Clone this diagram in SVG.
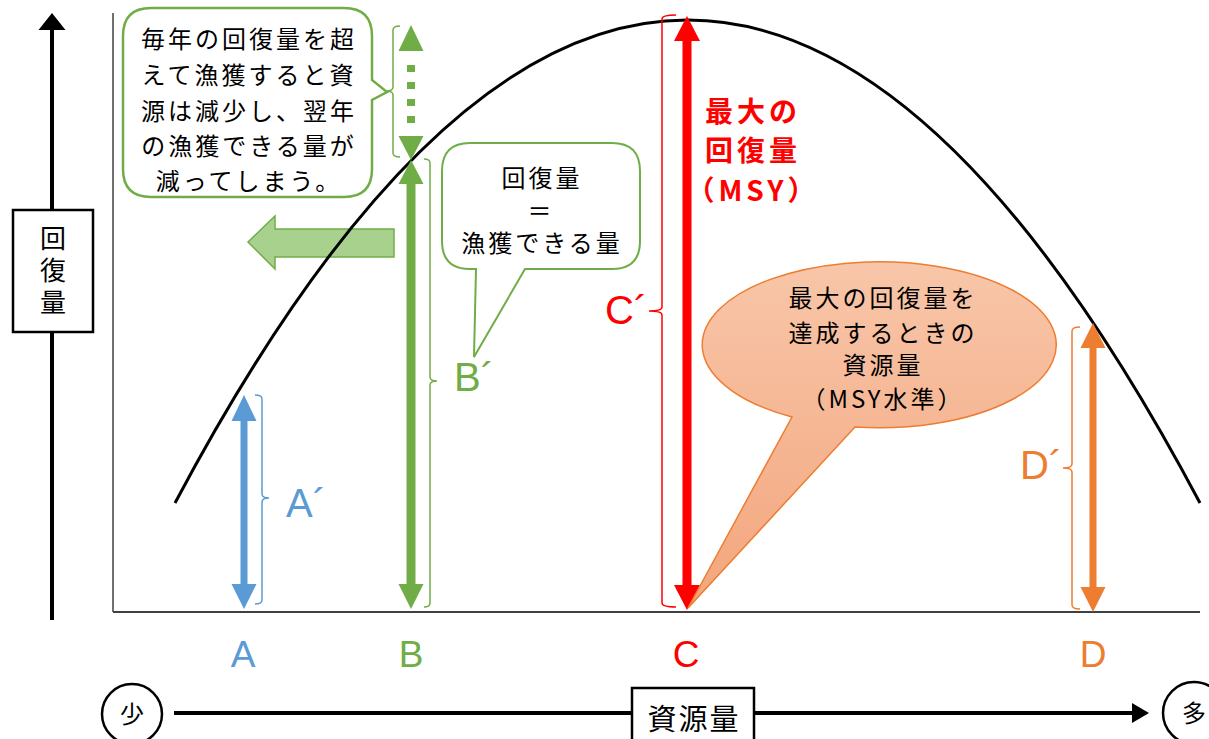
<svg xmlns="http://www.w3.org/2000/svg" width="1209" height="739" viewBox="0 0 1209 739">
<defs>
<linearGradient id="og" gradientUnits="userSpaceOnUse" x1="0" y1="262" x2="0" y2="608">
<stop offset="0" stop-color="#F8C6A9"/>
<stop offset="1" stop-color="#F3A67D"/>
</linearGradient>
</defs>
<style>
.jp{font-family:"Noto Sans CJK JP","Noto Sans",sans-serif;}
.lat{font-family:"Liberation Sans",Arial,sans-serif;}
.cb{font-size:24px;fill:#000;letter-spacing:3px;text-anchor:middle;}
.brk{fill:none;stroke-width:1.5;}
.lbl{font-size:37px;text-anchor:middle;}
.pr{font-size:40px;}
.blue{fill:#5B9BD5;} .green{fill:#70AD47;} .red{fill:#FF0000;} .orange{fill:#ED7D31;}
</style>
<rect width="1209" height="739" fill="#fff"/>

<g id="axes">
<line x1="113" y1="13" x2="113" y2="612" stroke="#404040" stroke-width="1.5"/>
<line x1="113" y1="612" x2="1200" y2="612" stroke="#404040" stroke-width="2"/>
<line x1="52" y1="28" x2="52" y2="620" stroke="#000" stroke-width="4"/>
<polygon points="52,13 38.5,30 65.5,30" fill="#000"/>
<line x1="174" y1="713" x2="1133" y2="713" stroke="#000" stroke-width="4"/>
<polygon points="1132,703 1149,713 1132,723" fill="#000"/>
</g>

<g id="ylabel">
<rect x="13" y="210" width="80" height="122" fill="#fff" stroke="#000" stroke-width="2.5"/>
<text class="jp" x="53" y="225" font-size="26" writing-mode="vertical-rl" letter-spacing="6">回復量</text>
</g>

<g id="xlabel">
<rect x="632" y="688" width="122" height="60" fill="#fff" stroke="#000" stroke-width="2.5"/>
<text class="jp" x="694" y="730" font-size="29" text-anchor="middle" letter-spacing="2">資源量</text>
</g>

<g id="few">
<circle cx="132" cy="714" r="30" fill="#fff" stroke="#000" stroke-width="2.5"/>
<text class="jp" x="132" y="723" font-size="24" text-anchor="middle">少</text>
</g>
<g id="many">
<circle cx="1194" cy="713" r="31" fill="#fff" stroke="#000" stroke-width="2.5"/>
<text class="jp" x="1194" y="722" font-size="24" text-anchor="middle">多</text>
</g>

<g id="leftarrow">
<polygon points="248,242 275,216 275,229 394,229 394,257 275,257 275,269" fill="#A9D18E" stroke="#70AD47" stroke-width="1.5"/>
</g>

<g id="curve">
<path d="M175,503 Q687.5,-463 1200,503" fill="none" stroke="#000" stroke-width="3"/>
</g>

<g id="connectors">
<polygon id="arrowA" points="244,395 256.5,421 247.5,421 247.5,584 256.5,584 244,609 231.5,584 240.5,584 240.5,421 231.5,421" fill="#5B9BD5"/>
<polygon id="arrowB" points="411,160 423.5,184 415.5,184 415.5,584 423.5,584 411,609 398.5,584 406.5,584 406.5,184 398.5,184" fill="#70AD47"/>
<g id="arrowBdot" fill="#70AD47">
<polygon points="411,25 423.5,51 398.5,51"/>
<rect x="407" y="65" width="8" height="7"/>
<rect x="407" y="82" width="8" height="7"/>
<rect x="407" y="99" width="8" height="7"/>
<rect x="407" y="116" width="8" height="7"/>
<polygon points="398.5,136 423.5,136 411,160"/>
</g>
<polygon id="arrowC" points="687,16 700,41 691.5,41 691.5,585 700,585 687,610 674,585 682.5,585 682.5,41 674,41" fill="#FF0000"/>
<polygon id="arrowD" points="1093,323 1105.5,348 1096.5,348 1096.5,587 1105.5,587 1093,612 1080.5,587 1089.5,587 1089.5,348 1080.5,348" fill="#ED7D31"/>
</g>

<g id="brackets">
<path class="brk" stroke="#5B9BD5" d="M255,395 Q262,395 262,399 V494 Q262,498 269,498 Q262,498 262,502 V600 Q262,604 255,604"/>
<path class="brk" stroke="#70AD47" d="M424,159 Q430,159 430,163 V377 Q430,381 437,381 Q430,381 430,385 V603 Q430,607 424,607"/>
<path class="brk" stroke="#70AD47" d="M400,26 Q393,26 393,30 V87 Q393,91 386,91 Q393,91 393,95 V153 Q393,157 400,157"/>
<path class="brk" stroke="#FF0000" d="M676,15 Q662,15 662,19 V307 Q662,311 649,311 Q662,311 662,315 V603 Q662,607 676,607"/>
<path class="brk" stroke="#ED7D31" d="M1080,327 Q1072,327 1072,331 V464 Q1072,468 1063,468 Q1072,468 1072,472 V605 Q1072,609 1080,609"/>
</g>

<g id="primes">
<text class="lat pr blue" x="286" y="517">A´</text>
<text class="lat pr green" x="454" y="391">B´</text>
<text class="lat pr red" x="605" y="324">C´</text>
<text class="lat pr orange" x="1020" y="479">D´</text>
</g>

<g id="xletters">
<text class="lat lbl blue" x="243" y="667">A</text>
<text class="lat lbl green" x="411" y="667">B</text>
<text class="lat lbl red" x="686" y="667">C</text>
<text class="lat lbl orange" x="1093" y="667">D</text>
</g>

<g id="msy-label" class="jp" font-weight="bold" font-size="28" fill="#FF0000" text-anchor="middle" letter-spacing="4">
<text x="753" y="122">最大の</text>
<text x="753" y="161">回復量</text>
<text x="753" y="201">（MSY）</text>
</g>

<g id="callout-overfish">
<path d="M151,8 H344 Q372,8 372,36 V80 L387,92 L372,100 V169 Q372,197 344,197 H151 Q123,197 123,169 V36 Q123,8 151,8 Z" fill="#fff" stroke="#70AD47" stroke-width="2.5"/>
<text class="jp cb" x="249" y="48">毎年の回復量を超</text>
<text class="jp cb" x="249" y="84">えて漁獲すると資</text>
<text class="jp cb" x="249" y="120">源は減少し、翌年</text>
<text class="jp cb" x="249" y="155">の漁獲できる量が</text>
<text class="jp cb" x="249" y="190">減ってしまう。</text>
</g>

<g id="callout-equal">
<path d="M470,143 H612 Q640,143 640,171 V241 Q640,269 612,269 H525 L474,357 L476,269 H470 Q442,269 442,241 V171 Q442,143 470,143 Z" fill="#fff" stroke="#70AD47" stroke-width="2"/>
<text class="jp cb" x="542" y="187">回復量</text>
<text class="jp cb" x="541" y="220">＝</text>
<text class="jp cb" x="542" y="252">漁獲できる量</text>
</g>

<g id="callout-msy">
<path d="M792,417 L688,608 L855,427 A177,83 0 1 0 792,417 Z" fill="url(#og)" stroke="#ED7D31" stroke-width="1.5"/>
<text class="jp cb" x="883" y="307">最大の回復量を</text>
<text class="jp cb" x="883" y="342">達成するときの</text>
<text class="jp cb" x="883" y="374">資源量</text>
<text class="jp cb" x="883" y="408">（MSY水準）</text>
</g>
</svg>
